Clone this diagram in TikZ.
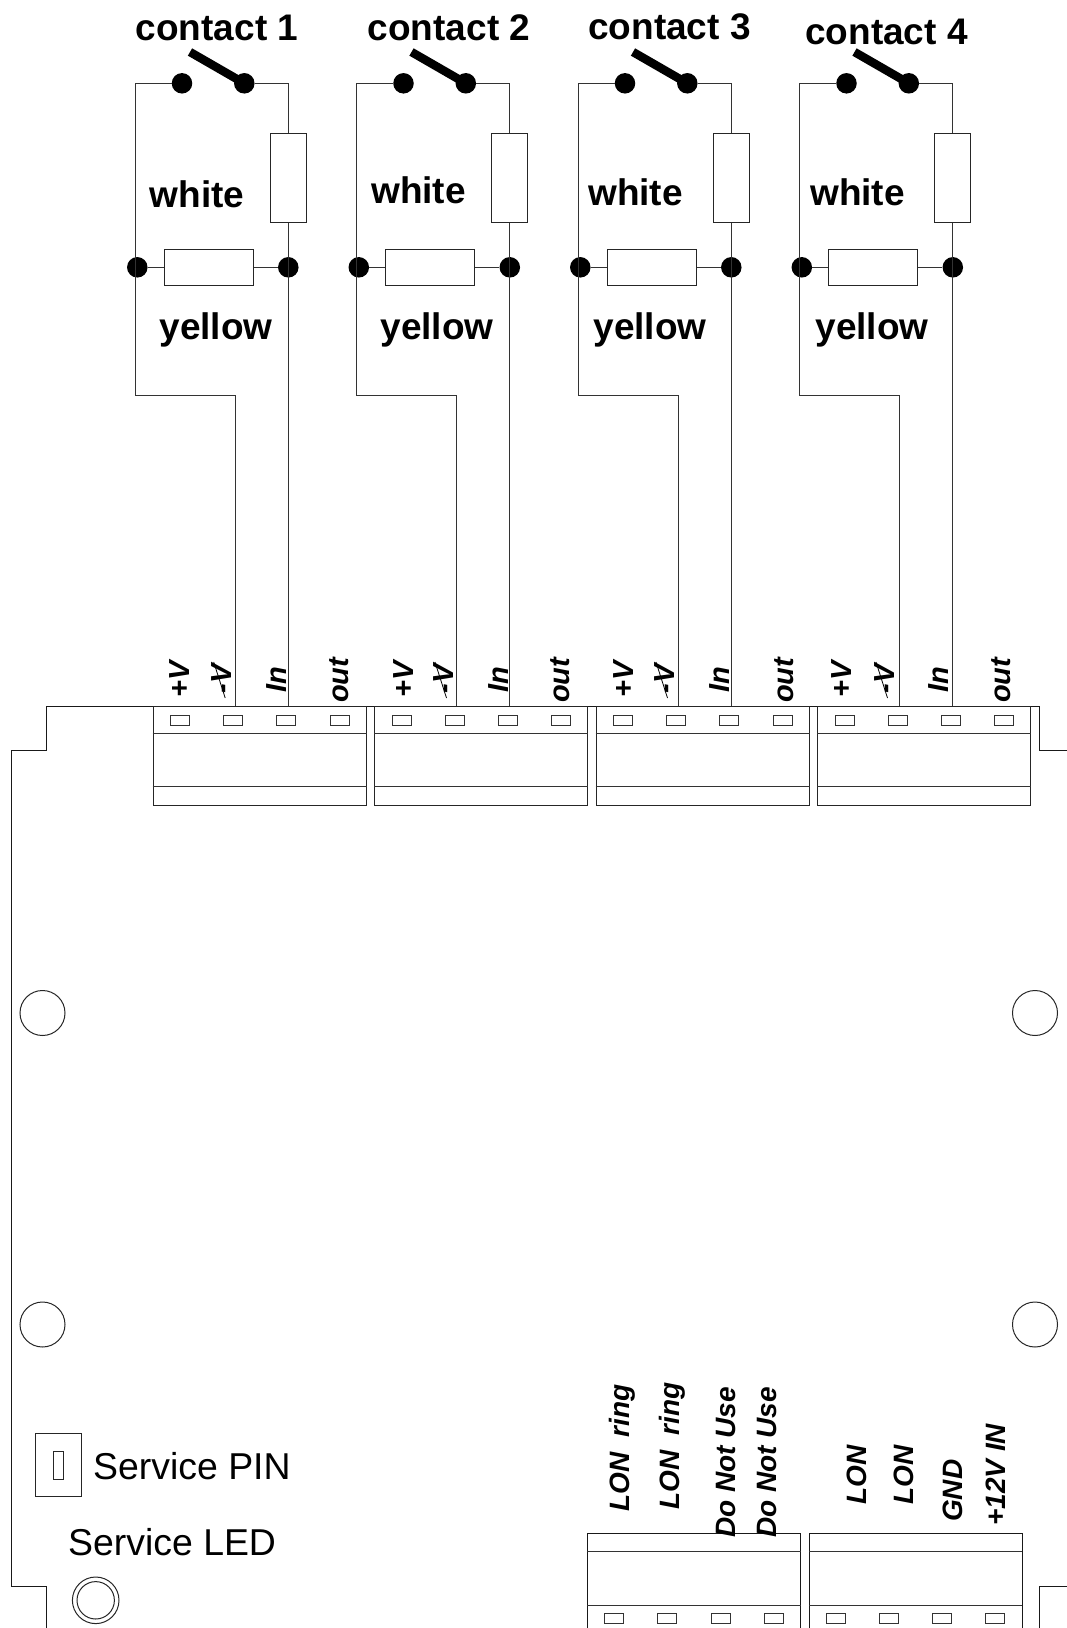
\documentclass[tikz,border=0pt]{standalone}
\usepackage{fontspec}
\usetikzlibrary{calc}
\setmainfont{Liberation Sans}
\tikzset{
  wire/.style={line width=1pt,draw=black!80},
  outline/.style={line width=1pt,draw=black!90},
  dot/.style={circle,fill=black,draw=none,inner sep=0pt,minimum size=20.5pt},
  resist/.style={rectangle,draw=black!85,line width=1pt,fill=white,inner sep=0pt},
  pinbox/.style={rectangle,draw=black!80,line width=1pt,fill=white,inner sep=0pt,minimum width=19pt,minimum height=10.5pt},
  hole/.style={circle,draw=black!85,line width=1pt,inner sep=0pt,minimum size=45pt},
  biglabel/.style={font=\fontsize{37}{41}\selectfont\bfseries,inner sep=0pt,anchor=base},
  plainlabel/.style={font=\fontsize{37.4}{41}\selectfont,inner sep=0pt,anchor=base west},
  pinlabel/.style={font=\fontsize{29}{33}\selectfont\bfseries\itshape,inner sep=0pt,anchor=base west,rotate=90},
  lowlabel/.style={font=\fontsize{28}{32}\selectfont\bfseries\itshape,inner sep=0pt,anchor=base west,rotate=90}
}
\begin{document}
\begin{tikzpicture}[x=1pt,y=-1pt]
\useasboundingbox (0,0) rectangle (1067,1628);
% board outline
\coordinate (ba) at (11.3,1586.7);
\draw[outline] (1067,750.5) -- (1039,750.5) -- (1039,706.5) -- (46.7,706.5) -- (46.7,750.5) -- (11.3,750.5) -- (ba) -- (46.7,1586.7) -- (46.7,1628);
\draw[outline] (1067,1586.7) -- (1039.7,1586.7) -- (1039.7,1628);
% contact circuits
\foreach \i/\dx/\tx/\ty/\wx/\wy/\yx in {%
  1/0/217/40.7/197/207/216,
  2/221.5/449/40.7/418.5/203/437,
  3/443/669.5/39.6/635.5/205/650,
  4/664.5/886.5/44/857.5/205/872}{
  \begin{scope}[xshift=\dx pt]
    \coordinate (tl\i) at (135.3,83.3);
    \coordinate (tr\i) at (288,83.3);
    \coordinate (bl\i) at (135.3,395.7);
    \coordinate (bm\i) at (235,395.7);
    \coordinate (vm\i) at (235,706.5);
    \coordinate (in\i) at (288,706.5);
    \coordinate (arm\i) at (190,52);
    \node[dot] (sl\i) at (182,83.3) {};
    \node[dot] (sr\i) at (244.3,83.3) {};
    \node[dot] (jl\i) at (137.3,267.3) {};
    \node[dot] (jr\i) at (288.3,267.3) {};
    \draw[wire] (sl\i) -- (tl\i) -- (bl\i) -- (bm\i) -- (vm\i);
    \draw[wire] (sr\i) -- (tr\i) -- (in\i);
    \draw[wire] (jl\i) -- (jr\i);
    \draw[line width=8.5pt] (sr\i.center) -- (arm\i);
    \node[resist,minimum width=36pt,minimum height=89pt] (rw\i) at (288.35,177.8) {};
    \node[resist,minimum width=89pt,minimum height=36pt] (ry\i) at (208.7,267.5) {};
  \end{scope}
  \node[biglabel] (ct\i) at (\tx,\ty) {contact \i};
  \node[biglabel] (wh\i) at (\wx,\wy) {white};
  \node[biglabel] (ye\i) at (\yx,339) {yellow};
}
% top connectors
\foreach \i/\dx in {1/0,2/221.5,3/443,4/664.5}{
  \begin{scope}[xshift=\dx pt]
    \node[rectangle,draw=black!85,line width=1pt,inner sep=0pt,minimum width=213pt,minimum height=98.8pt] (tc\i) at (259.7,755.9) {};
    \draw[wire] (tc\i.west |- 0,733.3) -- (tc\i.east |- 0,733.3);
    \draw[wire] (tc\i.west |- 0,786.7) -- (tc\i.east |- 0,786.7);
    \node[pinbox] (tp\i a) at (180,720.5) {};
    \node[pinbox] (tp\i b) at (233,720.5) {};
    \node[pinbox] (tp\i c) at (286.3,720.5) {};
    \node[pinbox] (tp\i d) at (339.7,720.5) {};
  \end{scope}
}
% top pin labels
\foreach \i/\a/\b/\c/\d in {1/189/231.7/286/348.3, 2/413/453/508/569.5, 3/633/674/729/793, 4/851.7/894/948/1010.7}{
  \node[pinlabel] (lp\i) at (\a,698) {+V};
  \node[pinlabel] (lm\i) at (\b,693.5) {-V};
  \node[pinlabel] (li\i) at (\c,692.5) {In};
  \node[pinlabel] (lo\i) at (\d,703) {out};
  \coordinate (su\i) at ($(\b,662)+(-18,0)$);
  \coordinate (sd\i) at ($(\b,698)+(-6.5,0)$);
  \draw[line width=0.8pt] (su\i) -- (sd\i);
}
% mounting holes
\node[hole] (h1) at (42.5,1013) {};
\node[hole] (h2) at (1035,1013) {};
\node[hole] (h3) at (42.5,1324.5) {};
\node[hole] (h4) at (1035,1324.5) {};
% service
\node[rectangle,draw=black!85,line width=1pt,inner sep=0pt,minimum width=45.6pt,minimum height=63.4pt] (spo) at (58.5,1465) {};
\node[rectangle,draw=black!85,line width=1pt,inner sep=0pt,minimum width=10.3pt,minimum height=28pt] (spi) at (58.2,1465) {};
\node[plainlabel] (spt) at (93,1479.3) {Service PIN};
\node[plainlabel] (slt) at (68,1555) {Service LED};
\node[circle,draw=black!85,line width=1pt,inner sep=0pt,minimum size=46.6pt] (ledo) at (95.7,1600.3) {};
\node[circle,draw=black!85,line width=1pt,inner sep=0pt,minimum size=37.4pt] (ledi) at (95.7,1600.3) {};
% bottom connectors
\foreach \n/\l/\r in {A/587.3/800.7,B/809/1022}{
  \coordinate (n\n tl) at (\l,1533.3);
  \coordinate (n\n tr) at (\r,1533.3);
  \coordinate (n\n bl) at (\l,1628);
  \coordinate (n\n br) at (\r,1628);
  \draw[outline] (n\n bl) -- (n\n tl) -- (n\n tr) -- (n\n br);
  \draw[wire] (\l,1551) -- (\r,1551);
  \draw[wire] (\l,1605) -- (\r,1605);
}
\foreach \k/\x in {a/614,b/667.3,c/720.7,d/773.7,e/835.7,f/889,g/942,h/995.3}{
  \node[pinbox] (bp\k) at (\x,1618.3) {};
}
\node[lowlabel] (b1) at (629.3,1512) {LON\ \ ring};
\node[lowlabel] (b2) at (679.3,1510) {LON\ \ ring};
\node[lowlabel] (b3) at (735,1538) {Do Not Use};
\node[lowlabel] (b4) at (776,1538) {Do Not Use};
\node[lowlabel] (b5) at (866,1505) {LON};
\node[lowlabel] (b6) at (913.3,1505) {LON};
\node[lowlabel] (b7) at (962.5,1522) {GND};
\node[lowlabel] (b8) at (1005,1526) {+12V IN};
\end{tikzpicture}
\end{document}
